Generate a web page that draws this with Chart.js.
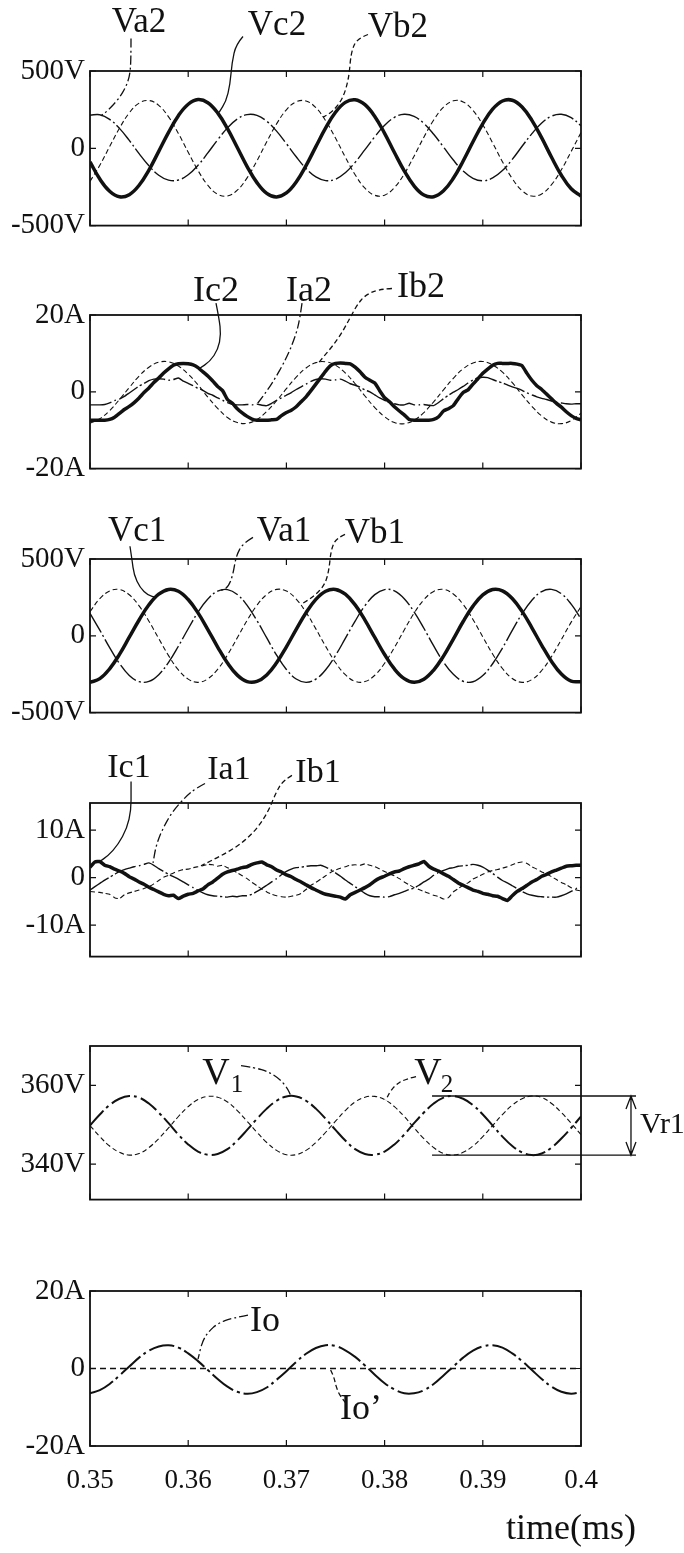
<!DOCTYPE html>
<html>
<head>
<meta charset="utf-8">
<title>Waveforms</title>
<script src="https://cdn.jsdelivr.net/npm/chart.js@4.4.1/dist/chart.umd.min.js"></script>
<style>
html, body { margin: 0; padding: 0; background: #ffffff; }
#page { position: relative; width: 684px; height: 1553px; overflow: hidden; background: #ffffff; }
#page canvas { position: absolute; left: 0; }
</style>
</head>
<body>
<div id="page"></div>
<script>
// time axis (ms)
const time = [0.350,0.351,0.352,0.353,0.354,0.355,0.356,0.357,0.358,0.359,0.360,0.361,0.362,0.363,0.364,0.365,0.366,0.367,0.368,0.369,0.370,0.371,0.372,0.373,0.374,0.375,0.376,0.377,0.378,0.379,0.380,0.381,0.382,0.383,0.384,0.385,0.386,0.387,0.388,0.389,0.390,0.391,0.392,0.393,0.394,0.395,0.396,0.397,0.398,0.399,0.400];
const timeFine = [0.35,0.3505,0.351,0.3515,0.352,0.3525,0.353,0.3535,0.354,0.3545,0.355,0.3555,0.356,0.3565,0.357,0.3575,0.358,0.3585,0.359,0.3595,0.36,0.3605,0.361,0.3615,0.362,0.3625,0.363,0.3635,0.364,0.3645,0.365,0.3655,0.366,0.3665,0.367,0.3675,0.368,0.3685,0.369,0.3695,0.37,0.3705,0.371,0.3715,0.372,0.3725,0.373,0.3735,0.374,0.3745,0.375,0.3755,0.376,0.3765,0.377,0.3775,0.378,0.3785,0.379,0.3795,0.38,0.3805,0.381,0.3815,0.382,0.3825,0.383,0.3835,0.384,0.3845,0.385,0.3855,0.386,0.3865,0.387,0.3875,0.388,0.3885,0.389,0.3895,0.39,0.3905,0.391,0.3915,0.392,0.3925,0.393,0.3935,0.394,0.3945,0.395,0.3955,0.396,0.3965,0.397,0.3975,0.398,0.3985,0.399,0.3995,0.4];
const xTickValues = [0.35, 0.36, 0.37, 0.38, 0.39, 0.40];
const xTickLabels = ['0.35', '0.36', '0.37', '0.38', '0.39', '0.4'];

// phase voltages, side 2 (V)
const va2 = [214,217,187,129,51,-34,-113,-174,-206,-205,-171,-110,-30,55,132,190,218,213,175,111,30,-55,-131,-185,-209,-200,-158,-91,-9,75,149,200,220,206,161,91,8,-76,-147,-194,-210,-192,-144,-72,13,95,164,208,220,198,146];
const vb2 = [-214,-110,11,130,229,292,309,278,203,96,-26,-144,-239,-297,-308,-271,-191,-81,42,158,249,301,306,263,178,66,-57,-171,-258,-304,-303,-254,-166,-51,72,183,266,307,300,245,152,35,-87,-196,-274,-309,-295,-235,-139,-20,102];
const vc2 = [-88,-199,-278,-314,-300,-239,-141,-20,103,211,285,315,295,229,127,5,-118,-222,-292,-315,-289,-218,-112,11,132,233,297,314,282,206,97,-27,-146,-243,-302,-313,-275,-194,-82,42,160,253,306,311,267,181,67,-58,-174,-262,-309];

// phase currents, side 2 (A)
const ia2 = [-3.4,-3.4,-3.4,-3.3,-2.9,-2.3,-1.9,-1.2,-0.3,0.6,1.5,2.2,2.9,3.3,3.4,3.3,3.0,3.2,3.6,2.8,2.2,1.6,0.9,0.4,-0.4,-0.9,-1.6,-2.2,-2.8,-3.3,-3.4,-3.4,-3.3,-3.4,-3.2,-3.5,-3.6,-3.0,-2.2,-1.6,-0.9,-0.2,0.6,1.3,2.0,2.7,3.2,3.4,3.3,3.0,3.1,3.3,2.8,2.1,1.7,1.2,0.5,0.0,-0.8,-1.6,-2.2,-2.7,-3.1,-3.4,-3.4,-3.0,-3.4,-3.4,-3.3,-3.5,-3.6,-2.8,-1.8,-0.9,-0.1,0.6,1.4,2.3,3.1,3.6,3.8,3.7,3.2,2.7,2.3,1.8,1.3,0.9,0.4,-0.3,-0.8,-1.3,-1.7,-2.0,-2.4,-2.7,-2.9,-3.1,-3.2,-3.1,-3.1];
const ib2 = [-8.2,-7.0,-4.9,-2.0,1.1,4.1,6.4,7.7,7.8,6.7,4.6,1.8,-1.4,-4.3,-6.7,-8.0,-8.2,-7.2,-5.1,-2.3,0.8,3.8,6.2,7.6,7.8,6.9,4.9,2.1,-1.1,-4.1,-6.5,-8.0,-8.3,-7.4,-5.4,-2.6,0.5,3.5,6.0,7.5,7.9,7.0,5.1,2.4,-0.8,-3.8,-6.3,-7.9,-8.3,-7.5,-5.6];
const ic2 = [-7.4,-7.4,-7.4,-7.4,-7.2,-6.6,-5.6,-4.6,-3.8,-2.8,-1.6,-0.2,1.0,2.4,3.6,4.9,6.0,6.9,7.3,7.4,7.3,7.0,6.3,5.2,4.1,2.8,1.4,0.3,-2.0,-3.0,-4.4,-5.5,-6.4,-7.1,-7.4,-7.4,-7.4,-7.3,-7.2,-6.2,-5.4,-4.8,-3.9,-2.6,-1.3,0.3,2.0,3.7,5.4,6.8,7.4,7.5,7.4,7.3,6.4,5.2,3.8,3.0,2.3,0.3,-1.5,-2.6,-3.9,-5.0,-6.0,-7.2,-7.4,-7.4,-7.4,-7.4,-7.2,-6.5,-5.0,-4.4,-3.6,-1.8,-0.2,0.5,2.0,3.4,4.8,5.9,6.9,7.4,7.4,7.4,7.4,7.2,6.8,4.8,3.0,1.6,0.6,-0.6,-1.8,-3.0,-4.0,-5.2,-6.2,-6.9,-7.3];

// phase voltages, side 1 (V)
const va1 = [146,37,-77,-180,-258,-298,-297,-253,-173,-68,46,154,239,291,301,269,198,99,-14,-126,-219,-281,-303,-282,-221,-128,-17,96,196,268,301,292,241,156,49,-66,-171,-251,-296,-299,-259,-182,-80,35,144,232,288,302,274,206,110];
const vb1 = [157,242,292,301,267,195,95,-18,-129,-222,-282,-303,-280,-218,-125,-13,100,199,269,302,291,239,153,45,-69,-174,-253,-297,-298,-257,-179,-76,38,147,235,289,302,272,204,106,-7,-119,-213,-278,-303,-285,-226,-135,-25,89,190];
const vc1 = [-303,-279,-215,-121,-9,103,202,271,302,290,236,149,41,-73,-177,-256,-298,-297,-255,-176,-72,42,150,237,290,302,271,201,102,-11,-122,-216,-279,-303,-283,-223,-132,-21,93,193,266,301,293,243,159,52,-62,-167,-249,-295,-299];

// phase currents, side 1 (A)
const ia1 = [-2.6,-1.9,-1.2,-0.5,0.1,0.7,1.3,1.7,2.0,2.3,2.5,2.8,3.1,2.6,1.9,1.3,0.7,0.2,-0.3,-0.9,-1.5,-2.1,-2.7,-3.2,-3.6,-3.8,-3.9,-4.0,-4.1,-3.9,-4.0,-3.8,-3.8,-3.5,-2.9,-2.3,-1.6,-0.9,-0.2,0.6,1.3,1.8,2.1,2.2,2.4,2.5,2.5,2.6,2.2,1.7,1.0,0.3,-0.5,-1.2,-1.9,-2.6,-3.3,-3.8,-4.0,-4.0,-4.1,-4.0,-3.6,-3.3,-2.9,-2.5,-2.2,-1.6,-0.9,-0.3,0.5,1.1,1.5,1.9,2.1,2.4,2.5,2.6,2.8,2.6,2.2,1.6,0.9,0.1,-0.6,-1.1,-1.7,-2.3,-2.9,-3.4,-3.7,-3.9,-4.0,-4.1,-4.1,-4.1,-3.8,-3.4,-2.9,-2.3,-2.0];
const ib1 = [-2.9,-3.0,-3.1,-3.3,-3.5,-4.2,-4.4,-3.6,-3.2,-2.9,-2.6,-2.3,-1.9,-1.3,-0.6,0.1,0.5,1.0,1.4,1.7,1.8,2.1,2.3,2.5,2.8,2.7,2.4,2.6,2.1,1.6,1.0,0.4,-0.2,-1.0,-1.7,-2.4,-3.0,-3.5,-3.8,-4.0,-4.1,-3.9,-3.7,-3.3,-2.5,-1.6,-1.0,-0.3,0.4,1.1,1.6,2.0,2.3,2.6,2.7,2.6,2.9,2.6,2.3,1.8,1.3,0.8,0.4,-0.2,-0.9,-1.5,-2.1,-2.5,-2.9,-3.3,-3.7,-4.0,-4.5,-4.2,-3.0,-2.3,-1.6,-1.1,-0.3,0.2,0.7,1.2,1.5,1.7,2.0,2.3,2.7,3.1,3.3,3.0,2.3,1.8,1.2,0.8,0.2,-0.4,-1.0,-1.5,-2.1,-2.6,-2.8];
const ic1 = [2.2,3.3,3.4,2.6,2.3,1.8,1.4,0.9,0.2,-0.3,-0.9,-1.4,-2.0,-2.5,-3.0,-3.5,-3.8,-3.7,-4.4,-3.9,-3.5,-3.3,-2.8,-2.4,-1.5,-0.9,-0.1,0.7,1.2,1.5,1.8,2.1,2.3,2.8,3.1,3.3,2.7,2.3,1.6,1.2,0.6,0.2,-0.4,-0.9,-1.5,-2.1,-2.6,-3.1,-3.5,-3.7,-3.9,-4.1,-4.5,-3.6,-3.1,-2.6,-2.1,-1.5,-0.7,-0.1,0.3,0.8,1.2,1.4,1.9,2.3,2.6,2.9,3.4,2.4,1.8,1.4,0.8,0.3,-0.4,-1.1,-1.6,-2.1,-2.6,-2.9,-3.3,-3.5,-3.8,-3.9,-4.4,-4.8,-3.8,-2.9,-2.3,-1.6,-0.9,-0.4,0.3,0.7,1.2,1.6,2.0,2.4,2.5,2.6,2.6];

// dc link capacitor voltages (V)
const v1 = [349.8,352.6,355.0,356.6,357.3,356.9,355.4,353.1,350.4,347.5,345.0,343.2,342.4,342.6,343.8,346.0,348.7,351.5,354.1,356.1,357.2,357.2,356.1,354.1,351.5,348.7,346.0,343.8,342.6,342.4,343.2,345.0,347.5,350.4,353.1,355.4,356.9,357.3,356.6,355.0,352.6,349.8,347.0,344.6,343.0,342.3,342.7,344.2,346.5,349.2,352.1];
const v2 = [349.8,347.0,344.6,343.0,342.3,342.7,344.2,346.5,349.2,352.1,354.6,356.4,357.2,357.0,355.8,353.6,350.9,348.1,345.5,343.5,342.4,342.4,343.5,345.5,348.1,350.9,353.6,355.8,357.0,357.2,356.4,354.6,352.1,349.2,346.5,344.2,342.7,342.3,343.0,344.6,347.0,349.8,352.6,355.0,356.6,357.3,356.9,355.4,353.1,350.4,347.5];
const ripple = { from: 0.38483, to: 0.4056, arrowAt: 0.40509, labelAt: 0.40601, top: 357.3, bottom: 342.3 };

// neutral currents (A)
const io = [-6.4,-5.6,-4.0,-1.8,0.5,2.8,4.6,5.7,6.0,5.4,3.9,1.9,-0.4,-2.7,-4.7,-6.0,-6.5,-6.1,-4.9,-2.9,-0.7,1.7,3.8,5.3,6.0,5.8,4.7,3.0,0.8,-1.6,-3.8,-5.4,-6.4,-6.4,-5.6,-4.0,-1.8,0.5,2.8,4.6,5.7,6.0,5.4,3.9,1.9,-0.4,-2.7,-4.7,-6.0,-6.5,-6.1];
const ioRefTime = [0.35, 0.40];
const ioRef = [0, 0];

const INK = '#111';
const FONT = "'Liberation Serif', 'Times New Roman', serif";
const THICK = { borderWidth: 3.5, borderDash: [] };
const DASH = { borderWidth: 1.1, borderDash: [5, 3] };
const DASHDOT = { borderWidth: 1.4, borderDash: [22, 3, 2, 3] };
const DASHDOT_BOLD = { borderWidth: 2, borderDash: [20, 4, 3, 4] };
const L_SOLID = [], L_DASH = [5, 3], L_DASHDOT = [9, 3, 2, 3];

function pts(xs, ys) {
    return xs.map((x, i) => ({ x: x, y: ys[i] }));
}

function curve(ctx, p) {
    ctx.beginPath();
    ctx.moveTo(p[0][0], p[0][1]);
    for (let i = 1; i < p.length - 1; i++) {
        const mx = (p[i][0] + p[i + 1][0]) / 2, my = (p[i][1] + p[i + 1][1]) / 2;
        ctx.quadraticCurveTo(p[i][0], p[i][1], mx, my);
    }
    const e = p[p.length - 1];
    ctx.lineTo(e[0], e[1]);
    ctx.stroke();
}

const sketch = {
    id: 'sketch',
    afterDatasetsDraw(chart, args, o) {
        const ctx = chart.ctx, a = chart.chartArea;
        const X = t => chart.scales.x.getPixelForValue(t);
        const Y = v => chart.scales.y.getPixelForValue(v);
        ctx.save();
        ctx.strokeStyle = INK;
        ctx.fillStyle = INK;
        ctx.setLineDash([]);
        ctx.lineWidth = 1.8;
        ctx.strokeRect(a.left, a.top, a.right - a.left, a.bottom - a.top);

        // ticks point inwards, on all four sides
        ctx.lineWidth = 1.2;
        ctx.beginPath();
        xTickValues.forEach(t => {
            const x = X(t);
            ctx.moveTo(x, a.top); ctx.lineTo(x, a.top + 6);
            ctx.moveTo(x, a.bottom); ctx.lineTo(x, a.bottom - 6);
        });
        o.yTicks.forEach(v => {
            const y = Y(v);
            ctx.moveTo(a.left, y); ctx.lineTo(a.left + 6, y);
            ctx.moveTo(a.right, y); ctx.lineTo(a.right - 6, y);
        });
        ctx.stroke();

        (o.leaders || []).forEach(l => {
            ctx.lineWidth = 1.3;
            ctx.setLineDash(l.dash);
            curve(ctx, l.pts.map(p => [X(p[0]), Y(p[1])]));
        });
        ctx.setLineDash([]);

        ctx.textAlign = 'center';
        ctx.textBaseline = 'middle';
        (o.labels || []).forEach(l => {
            ctx.font = l.size + 'px ' + FONT;
            ctx.fillText(l.text, X(l.t), Y(l.v));
        });

        if (o.ripple) {
            const r = o.ripple, yt = Y(r.top), yb = Y(r.bottom), xa = X(r.arrowAt);
            ctx.lineWidth = 1.3;
            ctx.beginPath();
            ctx.moveTo(X(r.from), yt); ctx.lineTo(X(r.to), yt);
            ctx.moveTo(X(r.from), yb); ctx.lineTo(X(r.to), yb);
            ctx.moveTo(xa, yt); ctx.lineTo(xa, yb);
            ctx.moveTo(xa - 5, yt + 13); ctx.lineTo(xa, yt); ctx.lineTo(xa + 5, yt + 13);
            ctx.moveTo(xa - 5, yb - 13); ctx.lineTo(xa, yb); ctx.lineTo(xa + 5, yb - 13);
            ctx.stroke();
            ctx.textAlign = 'left';
            ctx.font = '30px ' + FONT;
            ctx.fillText('Vr1', X(r.labelAt), Y((r.top + r.bottom) / 2));
        }

        if (o.axisTitle) {
            ctx.textAlign = 'right';
            ctx.font = '36px ' + FONT;
            ctx.fillText(o.axisTitle, a.right + 55, a.bottom + 84);
        }
        ctx.restore();
    }
};

const panels = [
    { top: 0, height: 248, padTop: 71, padBottom: 20, min: -500, max: 500,
      yTicks: [-500, 0, 500], yLabels: ['-500V', '0', '500V'],
      series: [[time, va2, DASHDOT, 0.4], [time, vb2, DASH, 0.4], [time, vc2, THICK, 0.4]],
      labels: [
          { text: 'Va2', t: 0.35499, v: 812, size: 35 },
          { text: 'Vc2', t: 0.36904, v: 793, size: 35 },
          { text: 'Vb2', t: 0.38136, v: 780, size: 35 }],
      leaders: [
          { dash: L_DASHDOT, pts: [[0.354175, 710], [0.354175, 583], [0.354073, 475], [0.353666, 398], [0.352953, 322], [0.351833, 245], [0.35112, 210]] },
          { dash: L_SOLID, pts: [[0.36558, 723], [0.36487, 672], [0.36446, 557], [0.36426, 411], [0.36385, 303], [0.36314, 232]] },
          { dash: L_DASH, pts: [[0.37831, 736], [0.37719, 710], [0.37658, 621], [0.37637, 455], [0.37576, 322], [0.37475, 239], [0.37373, 201]] }] },
    { top: 240, height: 251, padTop: 75, padBottom: 20, min: -20, max: 20,
      yTicks: [-20, 0, 20], yLabels: ['-20A', '0', '20A'],
      series: [[timeFine, ia2, DASHDOT, 0.15], [time, ib2, DASH, 0.4], [timeFine, ic2, THICK, 0.15]],
      labels: [
          { text: 'Ic2', t: 0.36283, v: 26.2, size: 36 },
          { text: 'Ia2', t: 0.37230, v: 26.2, size: 36 },
          { text: 'Ib2', t: 0.38371, v: 27.2, size: 36 }],
      leaders: [
          { dash: L_SOLID, pts: [[0.36283, 23.1], [0.36314, 19.2], [0.36334, 14.9], [0.36303, 11.0], [0.36222, 7.9], [0.36110, 6.0]] },
          { dash: L_DASHDOT, pts: [[0.37159, 23.1], [0.37138, 19.2], [0.37098, 14.9], [0.37006, 9.0], [0.36853, 2.0], [0.36701, -3.2]] },
          { dash: L_DASH, pts: [[0.38075, 26.9], [0.37933, 26.7], [0.37800, 25.1], [0.37719, 22.6], [0.37648, 19.2], [0.37525, 13.6], [0.37332, 7.7]] }] },
    { top: 484, height: 251, padTop: 75, padBottom: 20, min: -500, max: 500,
      yTicks: [-500, 0, 500], yLabels: ['-500V', '0', '500V'],
      series: [[time, va1, DASHDOT, 0.4], [time, vb1, DASH, 0.4], [time, vc1, THICK, 0.4]],
      labels: [
          { text: 'Vc1', t: 0.35479, v: 679, size: 35 },
          { text: 'Va1', t: 0.36976, v: 679, size: 35 },
          { text: 'Vb1', t: 0.37902, v: 667, size: 35 }],
      leaders: [
          { dash: L_SOLID, pts: [[0.35407, 583], [0.35428, 494], [0.35448, 397], [0.35509, 314], [0.35591, 263], [0.35672, 250]] },
          { dash: L_DASHDOT, pts: [[0.36660, 641], [0.36558, 603], [0.36487, 519], [0.36456, 397], [0.36405, 314], [0.36334, 295]] },
          { dash: L_DASH, pts: [[0.37597, 660], [0.37505, 635], [0.37454, 558], [0.37434, 429], [0.37393, 333], [0.37281, 256], [0.37149, 205]] }] },
    { top: 728, height: 251, padTop: 75, padBottom: 20, min: -16.6, max: 15.7,
      yTicks: [-10, 0, 10], yLabels: ['-10A', '0', '10A'],
      series: [[timeFine, ia1, DASHDOT, 0.15], [timeFine, ib1, DASH, 0.15], [timeFine, ic1, THICK, 0.15]],
      labels: [
          { text: 'Ic1', t: 0.35397, v: 23.0, size: 34 },
          { text: 'Ia1', t: 0.36415, v: 22.7, size: 34 },
          { text: 'Ib1', t: 0.37322, v: 22.0, size: 34 }],
      leaders: [
          { dash: L_SOLID, pts: [[0.35418, 20.2], [0.35418, 18.3], [0.35418, 14.2], [0.35377, 10.4], [0.35285, 6.9], [0.35183, 4.6], [0.35092, 3.3]] },
          { dash: L_DASHDOT, pts: [[0.36171, 19.8], [0.36079, 18.8], [0.35978, 17.1], [0.35835, 13.8], [0.35733, 10.0], [0.35672, 6.7], [0.35642, 3.1]] },
          { dash: L_DASH, pts: [[0.37057, 21.5], [0.36965, 20.4], [0.36894, 17.9], [0.36813, 13.8], [0.36690, 10.0], [0.36527, 6.9], [0.36334, 4.6], [0.36130, 2.5]] }] },
    { top: 971, height: 251, padTop: 75, padBottom: 20, min: 331, max: 370,
      yTicks: [340, 360], yLabels: ['340V', '360V'],
      series: [[time, v1, DASHDOT_BOLD, 0.4], [time, v2, DASH, 0.4]],
      labels: [
          { text: 'V', t: 0.36283, v: 363.0, size: 38 },
          { text: '1', t: 0.36497, v: 360.0, size: 25 },
          { text: 'V', t: 0.38442, v: 363.0, size: 38 },
          { text: '2', t: 0.38635, v: 360.0, size: 25 }],
      leaders: [
          { dash: L_DASHDOT, pts: [[0.36538, 365.0], [0.36680, 364.5], [0.36813, 363.5], [0.36925, 361.75], [0.37006, 359.5], [0.37047, 357.3]] },
          { dash: L_DASH, pts: [[0.38320, 362.25], [0.38198, 361.5], [0.38106, 360.0], [0.38045, 358.0], [0.38014, 356.25]] }],
      ripple: ripple },
    { top: 1216, height: 337, padTop: 75, padBottom: 0, min: -20, max: 20,
      yTicks: [-20, 0, 20], yLabels: ['-20A', '0', '20A'],
      series: [[time, io, { borderWidth: 2, borderDash: [26, 4, 3, 4] }, 0.4], [ioRefTime, ioRef, { borderWidth: 1.3, borderDash: [6, 4] }, 0]],
      labels: [
          { text: 'Io', t: 0.36782, v: 12.06, size: 36 },
          { text: 'Io\u2019', t: 0.37760, v: -10.5, size: 36 }],
      leaders: [
          { dash: L_DASHDOT, pts: [[0.36609, 13.8], [0.36446, 13.0], [0.36303, 11.7], [0.36202, 9.4], [0.36141, 6.8], [0.36100, 2.4]] },
          { dash: L_DASH, pts: [[0.37607, -8.96], [0.37546, -7.15], [0.37505, -4.6], [0.37485, -2.3], [0.37444, 0]] }],
      axisTitle: 'time(ms)' }
];

const page = document.getElementById('page');
panels.forEach((p, n) => {
    const last = n === panels.length - 1;
    const cv = document.createElement('canvas');
    cv.width = 684;
    cv.height = p.height;
    cv.style.top = p.top + 'px';
    page.appendChild(cv);

    new Chart(cv, {
        type: 'line',
        data: {
            datasets: p.series.map(s => Object.assign({
                data: pts(s[0], s[1]),
                borderColor: INK,
                pointRadius: 0,
                fill: false,
                tension: s[3],
                borderJoinStyle: 'round'
            }, s[2]))
        },
        options: {
            responsive: false,
            animation: false,
            devicePixelRatio: 1,
            layout: { padding: { left: 0, right: 103, top: p.padTop, bottom: p.padBottom } },
            plugins: {
                legend: { display: false },
                tooltip: { enabled: false },
                sketch: p
            },
            scales: {
                x: {
                    type: 'linear', min: 0.35, max: 0.40, display: last,
                    grid: { display: false, drawTicks: false },
                    border: { display: false },
                    ticks: { color: INK, font: { family: FONT, size: 27 }, padding: 19, maxRotation: 0, autoSkip: false,
                             callback: (v, i) => xTickLabels[i] },
                    afterBuildTicks: s => { s.ticks = xTickValues.map(v => ({ value: v })); },
                    afterFit: s => { if (last) s.height = 107; }
                },
                y: {
                    min: p.min, max: p.max,
                    grid: { display: false, drawTicks: false },
                    border: { display: false },
                    ticks: { color: INK, font: { family: FONT, size: 29 }, padding: 5, autoSkip: false,
                             callback: (v, i) => p.yLabels[i] },
                    afterBuildTicks: s => { s.ticks = p.yTicks.map(v => ({ value: v })); },
                    afterFit: s => { s.width = 90; }
                }
            }
        },
        plugins: [sketch]
    });
});
</script>
</body>
</html>
